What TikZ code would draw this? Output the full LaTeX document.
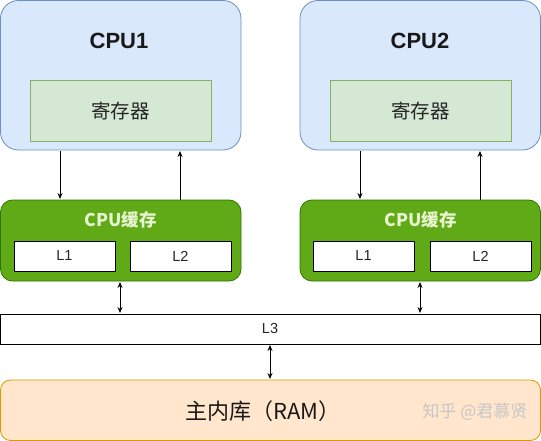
\documentclass[tikz,border=0pt]{standalone}
\usepackage{fontspec}
\setmainfont{Liberation Sans}
\newfontfamily\cjk{Noto Sans CJK SC}
\usetikzlibrary{arrows.meta}
\definecolor{cpufill}{HTML}{DAE8FC}
\definecolor{cpuline}{HTML}{6C8EBF}
\definecolor{regfill}{HTML}{D5E8D4}
\definecolor{regline}{HTML}{82B366}
\definecolor{cachefill}{HTML}{60A917}
\definecolor{cacheline}{HTML}{2D7600}
\definecolor{ramfill}{HTML}{FFE6CC}
\definecolor{ramline}{HTML}{D79B00}
\definecolor{cachetext}{HTML}{E8F5D0}
\tikzset{
  cpubox/.style={fill=cpufill, draw=cpuline, line width=0.8pt, rounded corners=18pt},
  regbox/.style={fill=regfill, draw=regline, line width=0.8pt},
  cachebox/.style={fill=cachefill, draw=cacheline, line width=0.8pt, rounded corners=12pt},
  lbox/.style={fill=white, draw=black, line width=0.8pt},
  rambox/.style={fill=ramfill, draw=ramline, line width=0.8pt, rounded corners=10pt},
  arr/.style={-{Stealth[length=6pt,width=5pt]}, line width=0.8pt},
  darr/.style={{Stealth[length=6pt,width=5pt]}-{Stealth[length=6pt,width=5pt]}, line width=0.8pt},
  lbl/.style={font=\fontsize{14.5}{16}\selectfont, text=black!85},
  cputitle/.style={font=\fontsize{22}{24}\selectfont\bfseries, text=black!90},
  regtext/.style={font=\cjk\fontsize{19.5}{21}\selectfont, text=black!85},
  cachetitle/.style={font=\cjk\fontsize{17.5}{19}\selectfont\bfseries, text=cachetext},
}
\begin{document}
\begin{tikzpicture}[x=1pt,y=-1pt]
\useasboundingbox (0,0) rectangle (541,441);
% CPU boxes
\draw[cpubox] (0.5,0.5) rectangle (241,150);
\draw[cpubox] (300,0.5) rectangle (540.5,150);
\node[cputitle] (t1) at (119,41) {CPU1};
\node[cputitle] (t2) at (420,41) {CPU2};
\draw[regbox] (30,80) rectangle (211,141);
\draw[regbox] (330,80) rectangle (511,141);
\node[regtext] (r1) at (120.5,111) {寄存器};
\node[regtext] (r2) at (420.5,111) {寄存器};
% coordinates for connectors
\coordinate (c1d0) at (60,151); \coordinate (c1d1) at (60,199);
\coordinate (c1u0) at (180,200); \coordinate (c1u1) at (180,151);
\coordinate (c2d0) at (360,151); \coordinate (c2d1) at (360,199);
\coordinate (c2u0) at (480,200); \coordinate (c2u1) at (480,151);
% cache boxes
\draw[cachebox] (0.5,200) rectangle (241,281);
\draw[cachebox] (300,200) rectangle (540.5,281);
\node[cachetitle] (k1) at (120.5,220) {CPU缓存};
\node[cachetitle] (k2) at (420.5,220) {CPU缓存};
\draw[lbox] (14,241) rectangle (115,271);
\draw[lbox] (130,241) rectangle (231,271);
\draw[lbox] (313,241) rectangle (414,271);
\draw[lbox] (430,241) rectangle (531,271);
\node[lbl] (l11) at (64.5,256) {L1};
\node[lbl] (l21) at (180.5,256) {L2};
\node[lbl] (l12) at (363.5,256) {L1};
\node[lbl] (l22) at (480.5,256) {L2};
% L3
\draw[lbox] (0.5,314) rectangle (540.5,344);
\node[lbl] (l3) at (270,329) {L3};
% RAM
\draw[rambox] (0.5,380) rectangle (540.5,440.5);
\node[font=\cjk\fontsize{22}{24}\selectfont, text=black!90] (ram) at (263,411) {主内库（RAM）};
\node[font=\cjk\fontsize{17}{19}\selectfont, text=black!22] (wm) at (475,412) {知乎 @君慕贤};
% connectors
\draw[arr] (c1d0) -- (c1d1);
\draw[arr] (c1u0) -- (c1u1);
\draw[arr] (c2d0) -- (c2d1);
\draw[arr] (c2u0) -- (c2u1);
\coordinate (a1) at (120,282); \coordinate (b1) at (120,313);
\coordinate (a2) at (420,282); \coordinate (b2) at (420,313);
\coordinate (a3) at (270,345); \coordinate (b3) at (270,379);
\draw[darr] (a1) -- (b1);
\draw[darr] (a2) -- (b2);
\draw[darr] (a3) -- (b3);
\end{tikzpicture}
\end{document}
